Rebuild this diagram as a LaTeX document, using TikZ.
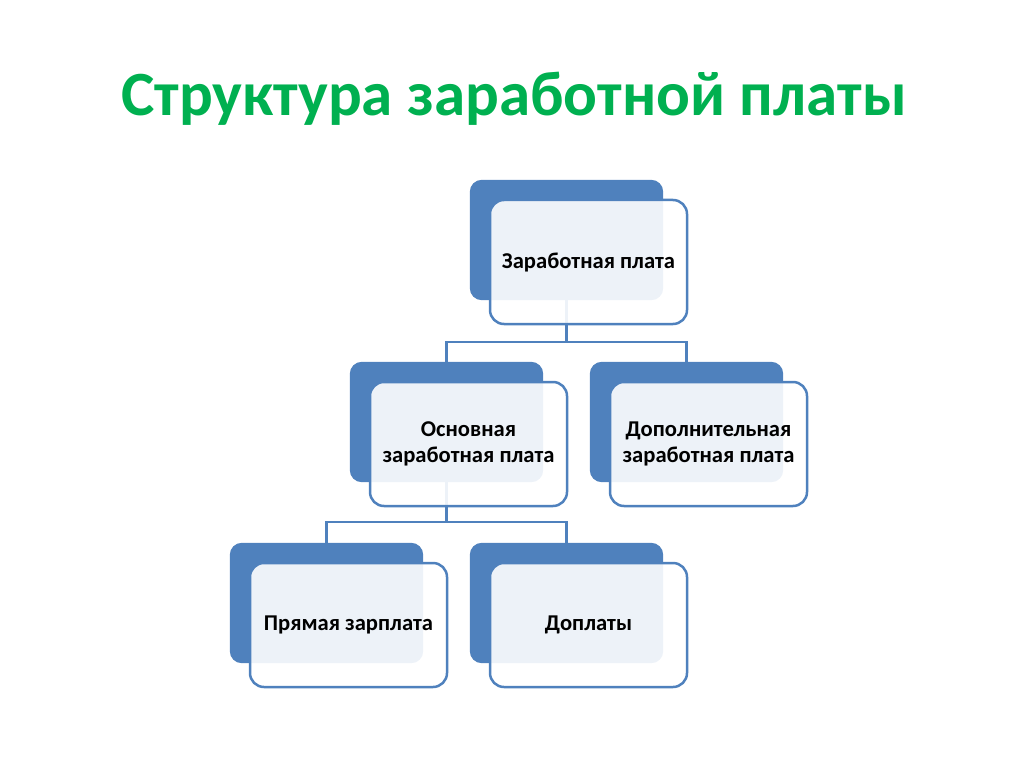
\documentclass[tikz,border=0pt]{standalone}
\usepackage{fontspec}
\setmainfont{Carlito}
\definecolor{sablue}{HTML}{4F81BD}
\definecolor{titlegreen}{HTML}{00B050}
\tikzset{
  backbox/.style={draw=none, fill=sablue, rounded corners=12pt, minimum width=193pt, minimum height=120pt, inner sep=0pt},
  frontbox/.style={draw=sablue, line width=2.5pt, fill=white, fill opacity=0.9, text opacity=1, rounded corners=14pt, minimum width=197pt, minimum height=124pt, align=center, font=\fontsize{22.6}{25.5}\selectfont\bfseries, inner sep=0pt},
  conn/.style={draw=sablue, line width=2.5pt},
}
\begin{document}
\begin{tikzpicture}[x=1pt, y=-1pt]
\useasboundingbox (0,0) rectangle (1024,767);
\node[text=titlegreen, font=\fontsize{63}{68}\selectfont\bfseries, anchor=base] (title) at (514,116) {Структура заработной платы};
% back boxes (positions) for connectors
\node[backbox, fill=none] (zp-b) at (470+96.5, 180+60) {};
\node[backbox, fill=none] (osn-b) at (350+96.5, 362+60) {};
\node[backbox, fill=none] (dop-b) at (590+96.5, 362+60) {};
\node[backbox, fill=none] (pr-b) at (230+96.5, 543+60) {};
\node[backbox, fill=none] (dpl-b) at (470+96.5, 543+60) {};
\draw[conn] (zp-b.south) -- ++(0,42) -| (osn-b.north);
\draw[conn] (zp-b.south) -- ++(0,42) -| (dop-b.north);
\draw[conn] (osn-b.south) -- ++(0,40) -| (pr-b.north);
\draw[conn] (osn-b.south) -- ++(0,40) -| (dpl-b.north);
\fill[sablue, rounded corners=12pt] (zp-b.south west) rectangle (zp-b.north east);
\fill[sablue, rounded corners=12pt] (osn-b.south west) rectangle (osn-b.north east);
\fill[sablue, rounded corners=12pt] (dop-b.south west) rectangle (dop-b.north east);
\fill[sablue, rounded corners=12pt] (pr-b.south west) rectangle (pr-b.north east);
\fill[sablue, rounded corners=12pt] (dpl-b.south west) rectangle (dpl-b.north east);
\node[frontbox] (zp) at (470+118.5, 180+82) {Заработная плата};
\node[frontbox] (osn) at (350+118.5, 362+82) {Основная\\заработная плата};
\node[frontbox] (dop) at (590+118.5, 362+82) {Дополнительная\\заработная плата};
\node[frontbox] (pr) at (230+118.5, 543+82) {Прямая зарплата};
\node[frontbox] (dpl) at (470+118.5, 543+82) {Доплаты};
\end{tikzpicture}
\end{document}
